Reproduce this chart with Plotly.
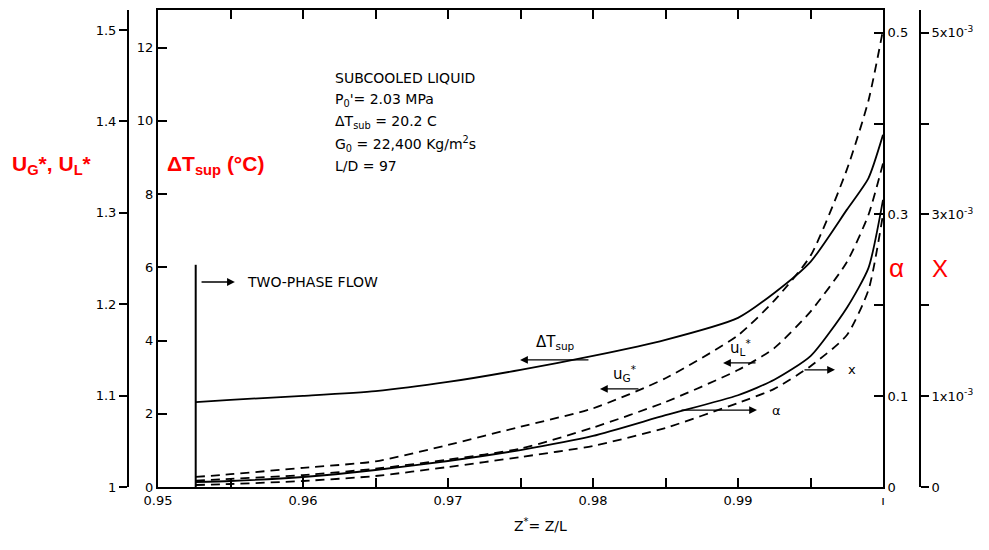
import plotly.graph_objects as go

# axial position z* = z/L
z = [0.9526, 0.955, 0.96, 0.965, 0.97, 0.975, 0.98, 0.985, 0.99,
     0.9925, 0.995, 0.9975, 0.999, 1.0]

# wall superheat (C), left inner axis
dT_sup = [2.32, 2.38, 2.49, 2.62, 2.87, 3.20, 3.58, 4.02, 4.62,
          5.30, 6.15, 7.57, 8.44, 9.62]
# dimensionless gas / liquid velocities, far left axis
uG = [1.011, 1.014, 1.021, 1.028, 1.046, 1.066, 1.086, 1.119, 1.166,
      1.204, 1.253, 1.347, 1.423, 1.500]
uL = [1.007, 1.009, 1.013, 1.020, 1.030, 1.042, 1.065, 1.093, 1.128,
      1.152, 1.192, 1.246, 1.298, 1.354]
# void fraction, inner right axis
alpha = [0.0055, 0.0066, 0.011, 0.0187, 0.0286, 0.0407, 0.0562, 0.0790, 0.1010,
         0.1180, 0.1440, 0.1971, 0.2412, 0.3161]
# quality, far right axis
quality = [0.000022, 0.000033, 0.000066, 0.000121, 0.00022, 0.00033, 0.000452, 0.00065,
           0.000925, 0.00108, 0.00133, 0.00167, 0.00217, 0.0030]

z_onset = 0.9526      # start of two-phase flow
onset_top = 6.07      # height of the marker line (C scale)

x_ticks = [0.95, 0.955, 0.96, 0.965, 0.97, 0.975, 0.98, 0.985, 0.99, 0.995, 1.0]
x_text = ["0.95", "", "0.96", "", "0.97", "", "0.98", "", "0.99", "", "ı"]

W, H = 989, 550
OFF = 8  # page body margin


def px(sx):
    return (sx - OFF) / W


def py(sy):
    return 1 - (sy - 10) / 477


fnt = dict(family="DejaVu Sans", size=13, color="black")
red = dict(family="Liberation Sans", size=21, color="red")

fig = go.Figure()
solid = dict(color="black", width=1.8, shape="spline", smoothing=0.6)
dashed = dict(color="black", width=1.8, dash="9px,6px", shape="spline", smoothing=0.6)

fig.add_trace(go.Scatter(x=z, y=dT_sup, mode="lines", line=solid, yaxis="y"))
fig.add_trace(go.Scatter(x=z, y=uG, mode="lines", line=dashed, yaxis="y2"))
fig.add_trace(go.Scatter(x=z, y=uL, mode="lines", line=dashed, yaxis="y2"))
fig.add_trace(go.Scatter(x=z, y=alpha, mode="lines", line=solid, yaxis="y3"))
fig.add_trace(go.Scatter(x=z, y=quality, mode="lines", line=dashed, yaxis="y4"))
fig.add_trace(go.Scatter(x=[z_onset, z_onset], y=[0, onset_top], mode="lines",
                         line=dict(color="black", width=2), yaxis="y"))

ax_common = dict(showline=True, linecolor="black", linewidth=2, tickcolor="black",
                 tickwidth=1.5, showgrid=False, zeroline=False, tickfont=fnt,
                 automargin=False)

fig.update_layout(
    width=W, height=H, showlegend=False,
    plot_bgcolor="white", paper_bgcolor="white",
    margin=dict(l=0, r=0, t=10 - OFF, b=63 + OFF),
    xaxis=dict(domain=[px(158), px(883)], range=[0.95, 1.0], tickvals=x_ticks,
               ticktext=x_text, ticks="inside", ticklen=9, mirror="ticks", **ax_common),
    yaxis=dict(range=[0, 13.03], tickvals=[0, 2, 4, 6, 8, 10, 12], ticks="inside",
               ticklen=9, anchor="x", side="left", **ax_common),
    yaxis2=dict(range=[1, 1.522], tickvals=[1, 1.1, 1.2, 1.3, 1.4, 1.5],
                ticktext=["1", "1.1", "1.2", "1.3", "1.4", "1.5"], ticks="outside",
                ticklen=8, overlaying="y", anchor="free", position=px(128), side="left",
                **ax_common),
    yaxis3=dict(range=[0, 0.525], tickvals=[0, 0.1, 0.2, 0.3, 0.4, 0.5],
                ticktext=["0", "0.1", "", "0.3", "", "0.5"], ticks="inside", ticklen=9,
                overlaying="y", anchor="x", side="right", **ax_common),
    yaxis4=dict(range=[0, 0.00525], tickvals=[0, 0.001, 0.002, 0.003, 0.004, 0.005],
                ticktext=["0", "1x10<sup>-3</sup>", "", "3x10<sup>-3</sup>", "",
                          "5x10<sup>-3</sup>"],
                ticks="outside", ticklen=8, overlaying="y", anchor="free",
                position=px(920), side="right", **ax_common),
)


def arrow(x_head, x_tail, yv):
    fig.add_annotation(x=x_head, y=yv, ax=x_tail, ay=yv, xref="x", yref="y",
                       axref="x", ayref="y", text="", showarrow=True, arrowhead=2,
                       arrowsize=1.2, arrowwidth=1.3, arrowcolor="black", standoff=0)


arrow(0.9553, 0.9529, 5.60)
arrow(0.97497, 0.97979, 3.47)
arrow(0.98048, 0.98324, 2.68)
arrow(0.98897, 0.99131, 3.39)
arrow(0.99669, 0.99448, 3.20)
arrow(0.99131, 0.9860, 2.10)


def label(x, y, text, size=13, xanchor="center"):
    fig.add_annotation(x=x, y=y, xref="x", yref="y", text=text, showarrow=False,
                       font=dict(fnt, size=size), xanchor=xanchor)


label(0.9560, 5.60, "TWO-PHASE FLOW", size=14, xanchor="left")
label(0.97738, 3.95, "ΔT<sub>sup</sub>", size=15)
label(0.9822, 3.10, "u<sub>G</sub><sup>*</sup>", size=15)
label(0.99014, 3.80, "u<sub>L</sub><sup>*</sup>", size=15)
label(0.99745, 3.20, "x", xanchor="left")
label(0.99221, 2.10, "α", xanchor="left")

info = ["SUBCOOLED LIQUID", "P<sub>0</sub>'= 2.03 MPa", "ΔT<sub>sub</sub> = 20.2 C",
        "G<sub>0</sub> = 22,400 Kg/m<sup>2</sup>s", "L/D = 97"]
for i, t in enumerate(info):
    fig.add_annotation(x=px(333), y=py(78 + 22 * i), xref="paper", yref="paper",
                       text=t, showarrow=False, font=dict(fnt, size=14),
                       xanchor="left", yanchor="middle")

# red axis titles
fig.add_annotation(x=px(10), y=py(165), xref="paper", yref="paper",
                   text="<b>U<sub>G</sub>*, U<sub>L</sub>*</b>", showarrow=False,
                   font=red, xanchor="left", yanchor="middle")
fig.add_annotation(x=px(165), y=py(165), xref="paper", yref="paper",
                   text="<b>ΔT<sub>sup</sub> (°C)</b>", showarrow=False,
                   font=red, xanchor="left", yanchor="middle")
fig.add_annotation(x=px(896), y=py(268), xref="paper", yref="paper",
                   text="α", showarrow=False, font=dict(red, size=26),
                   xanchor="center", yanchor="middle")
fig.add_annotation(x=px(940), y=py(268), xref="paper", yref="paper",
                   text="X", showarrow=False, font=dict(red, size=24),
                   xanchor="center", yanchor="middle")

# x axis title
fig.add_annotation(x=px(540), y=py(525), xref="paper", yref="paper",
                   text="Z<sup>*</sup>= Z/L", showarrow=False, font=dict(fnt, size=14),
                   xanchor="center", yanchor="middle")

fig.write_html("out.html")
